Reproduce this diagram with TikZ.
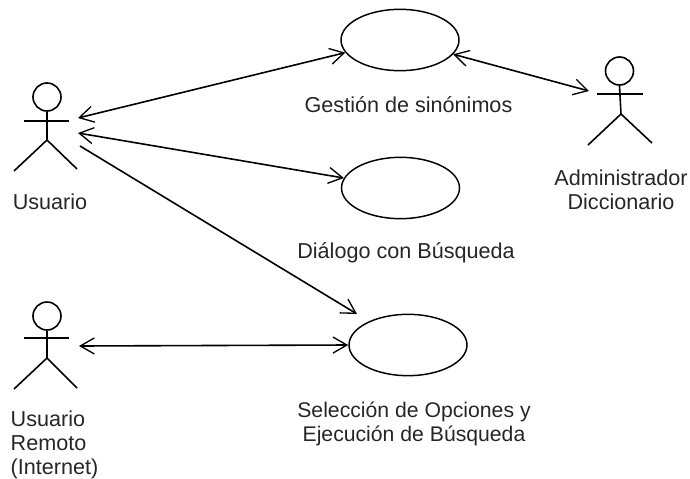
\documentclass[tikz,border=0pt]{standalone}
\usepackage{fontspec}
\setmainfont{Liberation Sans}
\usetikzlibrary{arrows.meta,shapes.geometric}
\tikzset{
	usecase/.style={draw,ellipse,line width=1.1pt,inner sep=0pt,minimum width=88.5pt,minimum height=46pt},
	actorline/.style={line width=1.2pt},
	link/.style={line width=1.2pt,{Straight Barb[length=10.5pt,width=12pt,line width=1pt]}-{Straight Barb[length=10.5pt,width=12pt,line width=1pt]}},
	linkto/.style={line width=1.2pt,-{Straight Barb[length=10.5pt,width=12pt,line width=1pt]}},
	lbl/.style={font=\fontsize{16.2pt}{18pt}\selectfont,align=center,text=black!85,inner sep=0pt}
}
\begin{document}
\begin{tikzpicture}[x=0.75pt,y=-0.75pt]
	\useasboundingbox (0,0) rectangle (690,479);
	% casos de uso
	\node [usecase] (sinonimos) at (400,40) {};
	\node [usecase] (dialogo) at (400.5,188) {};
	\node [usecase] (seleccion) at (408,345) {};
	\node [lbl] (lblsinonimos) at (408.5,105) {Gestión de sinónimos};
	\node [lbl] (lbldialogo) at (406,253) {Diálogo con Búsqueda};
	\node [lbl,font=\fontsize{15.9pt}{18pt}\selectfont] (lblseleccion) at (414,423.5) {Selección de Opciones y\\Ejecución de Búsqueda};
	% actores
	\node [draw,circle,actorline,inner sep=0pt,minimum size=21pt] (usuario) at (47,97) {};
	\draw [actorline] (24,121)--(69,121);
	\draw [actorline] (usuario.south)--(47,140);
	\draw [actorline] (14,171)--(47,140)--(77,169);
	\node [lbl] (lblusuario) at (50,202) {Usuario};
	\node [draw,circle,actorline,inner sep=0pt,minimum size=21pt] (remoto) at (47,316) {};
	\draw [actorline] (24,338)--(69,338);
	\draw [actorline] (remoto.south)--(47,358);
	\draw [actorline] (14,389)--(47,358)--(77,388);
	\node [lbl,align=left] (lblremoto) at (54.5,445) {Usuario\\Remoto\\(Internet)};
	\node [draw,circle,actorline,inner sep=0pt,minimum size=21pt] (admin) at (619.5,71) {};
	\draw [actorline] (597,94)--(643,94);
	\draw [actorline] (admin.south)--(621,114);
	\draw [actorline] (588,145)--(621,114)--(652,143);
	\node [lbl] (lbladmin) at (621,189.5) {Administrador\\Diccionario};
	% extremos
	\coordinate (usuarioA) at (78,118);
	\coordinate (usuarioB) at (78,133);
	\coordinate (usuarioC) at (80,146);
	\coordinate (remotoA) at (79,346);
	\coordinate (adminA) at (589,91);
	\coordinate (seleccionA) at (357,314);
	% asociaciones
	\draw [link] (usuarioA)--(sinonimos.193);
	\draw [link] (usuarioB)--(dialogo.170);
	\draw [linkto] (usuarioC)--(seleccionA);
	\draw [link] (remotoA)--(seleccion.180);
	\draw [link] (sinonimos.-15)--(adminA);
\end{tikzpicture}
\end{document}
